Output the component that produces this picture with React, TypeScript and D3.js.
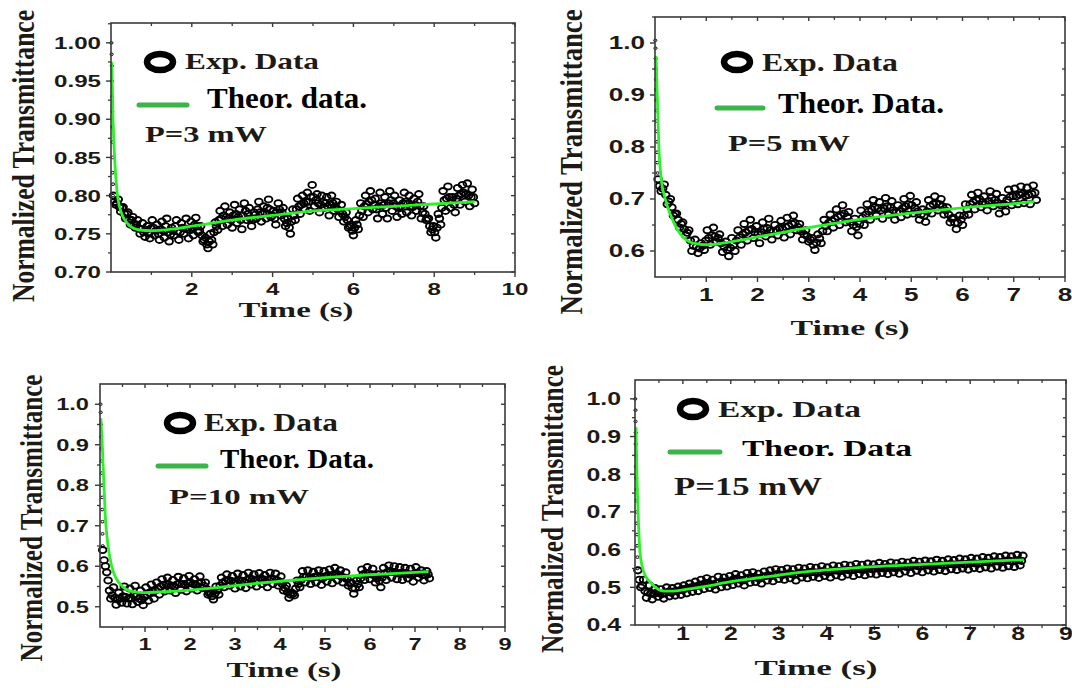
import React from 'react';
import * as d3 from 'd3';

// ================= DATA =================
// Panel 1 : P = 3 mW   (two interleaved sampling grids of the experimental trace)
const p1ExpStart = 0.06;
const p1ExpStartB = 0.09;
const p1ExpStep = 0.06;
const p1ExpValues = [
  0.800, 0.788, 0.795, 0.779, 0.785, 0.770, 0.778, 0.762, 0.772, 0.758,
  0.768, 0.750, 0.764, 0.746, 0.760, 0.744, 0.768, 0.748, 0.762, 0.742,
  0.766, 0.745, 0.770, 0.740, 0.758, 0.748, 0.768, 0.742, 0.764, 0.750,
  0.770, 0.744, 0.766, 0.748, 0.771, 0.752, 0.760, 0.740, 0.745, 0.731,
  0.750, 0.736, 0.765, 0.755, 0.780, 0.760, 0.786, 0.762, 0.778, 0.758,
  0.788, 0.764, 0.782, 0.756, 0.790, 0.768, 0.784, 0.760, 0.778, 0.770,
  0.792, 0.766, 0.786, 0.770, 0.795, 0.772, 0.780, 0.762, 0.790, 0.774,
  0.784, 0.760, 0.770, 0.750, 0.782, 0.768, 0.796, 0.776, 0.800, 0.782,
  0.804, 0.780, 0.814, 0.786, 0.802, 0.778, 0.800, 0.784, 0.798, 0.774,
  0.800, 0.780, 0.792, 0.772, 0.788, 0.766, 0.778, 0.758, 0.762, 0.748,
  0.768, 0.756, 0.790, 0.772, 0.800, 0.778, 0.806, 0.782, 0.796, 0.770,
  0.804, 0.776, 0.798, 0.770, 0.806, 0.780, 0.800, 0.772, 0.794, 0.776,
  0.804, 0.778, 0.800, 0.774, 0.796, 0.780, 0.802, 0.770, 0.786, 0.768,
  0.770, 0.752, 0.760, 0.745, 0.776, 0.762, 0.806, 0.780, 0.812, 0.784,
  0.798, 0.778, 0.810, 0.788, 0.814, 0.792, 0.816, 0.786, 0.808, 0.790,
];
const p1ExpValuesB = [
  0.792, 0.790, 0.785, 0.784, 0.776, 0.776, 0.769, 0.768, 0.763, 0.762,
  0.757, 0.756, 0.752, 0.755, 0.750, 0.757, 0.758, 0.754, 0.750, 0.756,
  0.754, 0.760, 0.752, 0.749, 0.754, 0.760, 0.753, 0.752, 0.758, 0.757,
  0.756, 0.755, 0.758, 0.762, 0.760, 0.754, 0.748, 0.742, 0.736, 0.740,
  0.742, 0.752, 0.760, 0.768, 0.770, 0.774, 0.772, 0.770, 0.768, 0.774,
  0.776, 0.772, 0.768, 0.774, 0.780, 0.776, 0.770, 0.768, 0.775, 0.782,
  0.778, 0.776, 0.778, 0.784, 0.782, 0.774, 0.770, 0.778, 0.782, 0.778,
  0.770, 0.764, 0.758, 0.766, 0.774, 0.782, 0.786, 0.788, 0.790, 0.792,
  0.792, 0.798, 0.798, 0.794, 0.790, 0.788, 0.792, 0.790, 0.786, 0.788,
  0.790, 0.786, 0.782, 0.780, 0.776, 0.772, 0.768, 0.760, 0.754, 0.758,
  0.762, 0.774, 0.780, 0.786, 0.789, 0.792, 0.794, 0.788, 0.782, 0.786,
  0.790, 0.788, 0.784, 0.790, 0.794, 0.790, 0.786, 0.784, 0.786, 0.790,
  0.792, 0.789, 0.786, 0.785, 0.788, 0.792, 0.786, 0.778, 0.776, 0.770,
  0.760, 0.756, 0.752, 0.758, 0.770, 0.784, 0.794, 0.796, 0.798, 0.794,
  0.788, 0.796, 0.800, 0.802, 0.804, 0.802, 0.800, 0.798, 0.798,
];
const p1ExpEarly: [number, number][] = [
  [0.01, 1.0], [0.015, 0.985], [0.02, 0.97], [0.02, 0.95], [0.025, 0.93], [0.03, 0.91],
  [0.03, 0.89], [0.035, 0.87], [0.04, 0.85], [0.04, 0.83], [0.05, 0.815], [0.05, 0.80],
];
const p1TheoT = [0.02, 0.05, 0.1, 0.15, 0.2, 0.3, 0.4, 0.5, 0.7, 1.0, 1.5, 2.0, 2.5, 3.0, 4.0, 5.0, 6.0, 7.0, 8.0, 9.0];
const p1TheoV = [0.975, 0.90, 0.84, 0.805, 0.788, 0.772, 0.764, 0.759, 0.755, 0.754, 0.756, 0.760, 0.764, 0.768, 0.774, 0.780, 0.783, 0.786, 0.789, 0.792];
const p1XLabels = [2, 4, 6, 8, 10];
const p1XMinor = [1, 3, 5, 7, 9];
const p1YLabels = [0.70, 0.75, 0.80, 0.85, 0.90, 0.95, 1.00];
const p1YMinor = [0.725, 0.775, 0.825, 0.875, 0.925, 0.975, 1.025];

// Panel 2 : P = 5 mW
const p2ExpStart = 0.06;
const p2ExpStartB = 0.09;
const p2ExpStep = 0.06;
const p2ExpValues = [
  0.738, 0.715, 0.728, 0.690, 0.700, 0.668, 0.672, 0.645, 0.655, 0.630,
  0.640, 0.600, 0.622, 0.596, 0.615, 0.602, 0.640, 0.612, 0.645, 0.618,
  0.632, 0.598, 0.618, 0.590, 0.625, 0.600, 0.640, 0.612, 0.652, 0.620,
  0.660, 0.625, 0.648, 0.615, 0.655, 0.628, 0.662, 0.622, 0.650, 0.630,
  0.658, 0.626, 0.664, 0.632, 0.668, 0.640, 0.652, 0.622, 0.640, 0.618,
  0.625, 0.602, 0.632, 0.615, 0.660, 0.638, 0.670, 0.645, 0.680, 0.650,
  0.688, 0.655, 0.675, 0.638, 0.662, 0.630, 0.678, 0.650, 0.690, 0.660,
  0.698, 0.668, 0.694, 0.662, 0.702, 0.670, 0.696, 0.660, 0.688, 0.665,
  0.700, 0.670, 0.706, 0.672, 0.694, 0.660, 0.680, 0.656, 0.698, 0.672,
  0.705, 0.678, 0.700, 0.670, 0.684, 0.655, 0.664, 0.642, 0.668, 0.650,
  0.690, 0.670, 0.708, 0.680, 0.712, 0.684, 0.705, 0.678, 0.715, 0.686,
  0.710, 0.672, 0.702, 0.676, 0.718, 0.688, 0.720, 0.690, 0.724, 0.692,
  0.722, 0.690, 0.726, 0.698,
];
const p2ExpValuesB = [
  0.725, 0.720, 0.708, 0.695, 0.684, 0.672, 0.660, 0.652, 0.642, 0.635,
  0.620, 0.610, 0.608, 0.605, 0.610, 0.620, 0.625, 0.630, 0.628, 0.625,
  0.615, 0.608, 0.602, 0.606, 0.612, 0.620, 0.626, 0.632, 0.636, 0.640,
  0.642, 0.636, 0.632, 0.636, 0.642, 0.644, 0.640, 0.638, 0.640, 0.644,
  0.642, 0.646, 0.648, 0.652, 0.654, 0.646, 0.638, 0.632, 0.628, 0.622,
  0.612, 0.616, 0.624, 0.638, 0.648, 0.654, 0.658, 0.662, 0.666, 0.668,
  0.672, 0.666, 0.656, 0.650, 0.646, 0.652, 0.664, 0.670, 0.676, 0.680,
  0.684, 0.682, 0.678, 0.682, 0.686, 0.684, 0.678, 0.674, 0.676, 0.682,
  0.686, 0.690, 0.688, 0.682, 0.676, 0.670, 0.668, 0.676, 0.686, 0.690,
  0.692, 0.690, 0.686, 0.678, 0.670, 0.662, 0.654, 0.654, 0.660, 0.668,
  0.680, 0.690, 0.694, 0.698, 0.700, 0.694, 0.690, 0.696, 0.702, 0.698,
  0.692, 0.688, 0.690, 0.698, 0.704, 0.706, 0.705, 0.708, 0.710, 0.706,
  0.708, 0.710, 0.712,
];
const p2ExpEarly: [number, number][] = [
  [0.005, 1.005], [0.01, 0.99], [0.012, 0.97], [0.015, 0.95], [0.02, 0.93], [0.02, 0.91],
  [0.025, 0.89], [0.03, 0.87], [0.03, 0.85], [0.035, 0.83], [0.04, 0.81], [0.04, 0.79],
  [0.045, 0.77], [0.05, 0.75],
];
const p2TheoT = [0.02, 0.05, 0.08, 0.12, 0.2, 0.3, 0.4, 0.5, 0.6, 0.75, 1.0, 1.5, 2.0, 2.5, 3.0, 3.5, 4.0, 5.0, 6.0, 7.0, 7.4];
const p2TheoV = [0.975, 0.88, 0.79, 0.74, 0.70, 0.67, 0.648, 0.632, 0.622, 0.615, 0.612, 0.618, 0.627, 0.636, 0.645, 0.653, 0.661, 0.673, 0.683, 0.691, 0.695];
const p2XLabels = [1, 2, 3, 4, 5, 6, 7, 8];
const p2XMinor = [0.5, 1.5, 2.5, 3.5, 4.5, 5.5, 6.5, 7.5];
const p2YLabels = [0.6, 0.7, 0.8, 0.9, 1.0];
const p2YMinor = [0.65, 0.75, 0.85, 0.95, 1.05];

// Panel 3 : P = 10 mW
const p3ExpStart = 0.06;
const p3ExpStartB = 0.09;
const p3ExpStep = 0.06;
const p3ExpValues = [
  0.640, 0.600, 0.565, 0.520, 0.548, 0.505, 0.535, 0.510, 0.550, 0.508,
  0.545, 0.506, 0.552, 0.512, 0.540, 0.504, 0.548, 0.515, 0.555, 0.520,
  0.560, 0.530, 0.568, 0.538, 0.572, 0.540, 0.566, 0.534, 0.574, 0.542,
  0.570, 0.538, 0.576, 0.545, 0.568, 0.540, 0.575, 0.546, 0.560, 0.530,
  0.535, 0.518, 0.550, 0.530, 0.572, 0.548, 0.580, 0.552, 0.576, 0.545,
  0.582, 0.550, 0.578, 0.546, 0.584, 0.555, 0.580, 0.550, 0.583, 0.556,
  0.578, 0.548, 0.584, 0.556, 0.582, 0.552, 0.575, 0.540, 0.552, 0.522,
  0.535, 0.528, 0.565, 0.548, 0.588, 0.560, 0.590, 0.556, 0.586, 0.560,
  0.590, 0.554, 0.588, 0.562, 0.592, 0.558, 0.596, 0.565, 0.590, 0.560,
  0.585, 0.552, 0.560, 0.532, 0.565, 0.548, 0.592, 0.566, 0.598, 0.568,
  0.594, 0.560, 0.580, 0.548, 0.596, 0.566, 0.602, 0.572, 0.600, 0.568,
  0.598, 0.566, 0.596, 0.570, 0.594, 0.562, 0.598, 0.572, 0.590, 0.565,
  0.588, 0.570,
];
const p3ExpValuesB = [
  0.615, 0.585, 0.540, 0.528, 0.522, 0.518, 0.520, 0.526, 0.524, 0.520,
  0.522, 0.528, 0.526, 0.520, 0.516, 0.524, 0.530, 0.534, 0.538, 0.540,
  0.545, 0.550, 0.554, 0.556, 0.555, 0.552, 0.550, 0.555, 0.558, 0.556,
  0.554, 0.558, 0.560, 0.556, 0.554, 0.558, 0.560, 0.552, 0.544, 0.534,
  0.526, 0.532, 0.540, 0.552, 0.560, 0.564, 0.566, 0.564, 0.560, 0.562,
  0.566, 0.564, 0.562, 0.566, 0.570, 0.568, 0.565, 0.566, 0.570, 0.568,
  0.562, 0.566, 0.570, 0.568, 0.566, 0.562, 0.556, 0.546, 0.536, 0.530,
  0.532, 0.545, 0.556, 0.566, 0.574, 0.574, 0.572, 0.570, 0.574, 0.576,
  0.572, 0.570, 0.575, 0.578, 0.576, 0.578, 0.582, 0.578, 0.574, 0.572,
  0.568, 0.558, 0.546, 0.545, 0.556, 0.570, 0.580, 0.584, 0.582, 0.580,
  0.578, 0.570, 0.564, 0.572, 0.582, 0.586, 0.588, 0.586, 0.584, 0.582,
  0.582, 0.584, 0.582, 0.580, 0.578, 0.582, 0.584, 0.582, 0.578, 0.578,
  0.580,
];
const p3ExpEarly: [number, number][] = [
  [0.01, 1.0], [0.015, 0.98], [0.02, 0.95], [0.025, 0.92], [0.03, 0.89], [0.035, 0.86],
  [0.04, 0.83], [0.045, 0.80], [0.05, 0.77], [0.05, 0.74], [0.055, 0.71], [0.055, 0.68],
  [0.06, 0.65],
];
const p3TheoT = [0.02, 0.05, 0.08, 0.12, 0.18, 0.26, 0.35, 0.5, 0.7, 1.0, 1.5, 2.0, 2.5, 3.0, 3.5, 4.0, 5.0, 6.0, 7.0, 7.3];
const p3TheoV = [0.965, 0.90, 0.82, 0.72, 0.65, 0.60, 0.572, 0.55, 0.538, 0.535, 0.537, 0.541, 0.546, 0.552, 0.558, 0.563, 0.572, 0.579, 0.585, 0.587];
const p3XLabels = [1, 2, 3, 4, 5, 6, 7, 8, 9];
const p3XMinor = [0.5, 1.5, 2.5, 3.5, 4.5, 5.5, 6.5, 7.5, 8.5];
const p3YLabels = [0.5, 0.6, 0.7, 0.8, 0.9, 1.0];
const p3YMinor = [0.55, 0.65, 0.75, 0.85, 0.95];

// Panel 4 : P = 15 mW
const p4ExpStart = 0.06;
const p4ExpStartB = 0.09;
const p4ExpStep = 0.06;
const p4ExpValues = [
  0.545, 0.500, 0.520, 0.472, 0.505, 0.468, 0.498, 0.475, 0.495, 0.470,
  0.500, 0.476, 0.498, 0.478, 0.502, 0.480, 0.505, 0.484, 0.510, 0.488,
  0.515, 0.490, 0.520, 0.495, 0.524, 0.498, 0.520, 0.494, 0.528, 0.500,
  0.526, 0.502, 0.530, 0.506, 0.535, 0.510, 0.532, 0.505, 0.538, 0.512,
  0.540, 0.514, 0.536, 0.510, 0.542, 0.518, 0.545, 0.516, 0.548, 0.522,
  0.546, 0.520, 0.550, 0.524, 0.548, 0.518, 0.552, 0.526, 0.550, 0.524,
  0.554, 0.528, 0.552, 0.525, 0.556, 0.530, 0.553, 0.526, 0.558, 0.532,
  0.556, 0.528, 0.560, 0.534, 0.558, 0.530, 0.562, 0.535, 0.560, 0.532,
  0.563, 0.536, 0.561, 0.534, 0.565, 0.538, 0.562, 0.535, 0.566, 0.540,
  0.564, 0.536, 0.568, 0.542, 0.566, 0.538, 0.570, 0.544, 0.568, 0.540,
  0.571, 0.545, 0.569, 0.542, 0.573, 0.546, 0.570, 0.543, 0.574, 0.548,
  0.572, 0.546, 0.576, 0.550, 0.574, 0.547, 0.578, 0.551, 0.576, 0.549,
  0.580, 0.553, 0.578, 0.550, 0.582, 0.555, 0.580, 0.552, 0.584, 0.556,
  0.582, 0.554, 0.586, 0.558, 0.584,
];
const p4ExpValuesB = [
  0.520, 0.505, 0.490, 0.486, 0.484, 0.482, 0.486, 0.484, 0.482, 0.485,
  0.488, 0.486, 0.489, 0.490, 0.492, 0.494, 0.496, 0.498, 0.500, 0.502,
  0.503, 0.506, 0.508, 0.510, 0.512, 0.508, 0.506, 0.512, 0.514, 0.515,
  0.514, 0.516, 0.518, 0.522, 0.523, 0.520, 0.518, 0.522, 0.525, 0.527,
  0.527, 0.525, 0.523, 0.528, 0.530, 0.532, 0.530, 0.533, 0.535, 0.534,
  0.533, 0.536, 0.537, 0.535, 0.533, 0.536, 0.539, 0.538, 0.537, 0.540,
  0.541, 0.540, 0.538, 0.542, 0.543, 0.541, 0.540, 0.544, 0.545, 0.544,
  0.543, 0.546, 0.547, 0.545, 0.546, 0.548, 0.549, 0.547, 0.546, 0.549,
  0.550, 0.548, 0.550, 0.552, 0.551, 0.550, 0.553, 0.554, 0.552, 0.551,
  0.553, 0.555, 0.556, 0.554, 0.555, 0.557, 0.558, 0.556, 0.555, 0.557,
  0.558, 0.557, 0.556, 0.559, 0.560, 0.559, 0.557, 0.560, 0.562, 0.561,
  0.560, 0.562, 0.563, 0.561, 0.562, 0.564, 0.565, 0.563, 0.562, 0.565,
  0.567, 0.566, 0.565, 0.567, 0.569, 0.568, 0.566, 0.569, 0.571, 0.570,
  0.568, 0.571, 0.572, 0.570,
];
const p4ExpEarly: [number, number][] = [
  [0.005, 1.0], [0.01, 0.97], [0.01, 0.94], [0.015, 0.91], [0.015, 0.88], [0.02, 0.85],
  [0.02, 0.82], [0.025, 0.79], [0.03, 0.76], [0.035, 0.73], [0.035, 0.70], [0.04, 0.67],
  [0.04, 0.64], [0.045, 0.61], [0.05, 0.58], [0.05, 0.55],
];
const p4TheoT = [0.02, 0.04, 0.07, 0.1, 0.15, 0.22, 0.33, 0.45, 0.6, 0.8, 1.0, 1.5, 2.0, 2.5, 3.0, 3.5, 4.0, 5.0, 6.0, 7.0, 8.12];
const p4TheoV = [0.925, 0.80, 0.68, 0.60, 0.555, 0.53, 0.512, 0.498, 0.49, 0.49, 0.493, 0.503, 0.515, 0.524, 0.532, 0.54, 0.546, 0.555, 0.561, 0.567, 0.573];
const p4XLabels = [1, 2, 3, 4, 5, 6, 7, 8, 9];
const p4XMinor = [0.5, 1.5, 2.5, 3.5, 4.5, 5.5, 6.5, 7.5, 8.5];
const p4YLabels = [0.4, 0.5, 0.6, 0.7, 0.8, 0.9, 1.0];
const p4YMinor = [0.45, 0.55, 0.65, 0.75, 0.85, 0.95];

const xTitle = 'Time (s)';
const yTitle = 'Normalized Transmittance';
const expLegend = 'Exp. Data';

// ================= LAYOUT =================
type Layout = {
  left: number; right: number; top: number; bottom: number;
  xDomain: [number, number]; yDomain: [number, number];
  yFmt: string; tickFont: number; tickScale: number; xLabelOff: number; yLabelGap: number;
  yTitle: { x: number; cy: number; len: number; font: number; sx: number };
  xTitle: { cx: number; base: number; len: number; font: number };
  ring: { cx: number; cy: number };
  exp: { x: number; base: number; len: number; font: number };
  line: { x1: number; x2: number; y: number };
  theor: { x: number; base: number; len: number; font: number; text: string };
  power: { x: number; base: number; len: number; font: number; text: string };
};

const L1: Layout = {
  left: 111, right: 515, top: 23, bottom: 272, xDomain: [0, 10], yDomain: [0.70, 1.026],
  yFmt: '.2f', tickFont: 17, tickScale: 1.42, xLabelOff: 23, yLabelGap: 10,
  yTitle: { x: 34, cy: 156, len: 292, font: 24, sx: 1.3 },
  xTitle: { cx: 296, base: 317, len: 115, font: 22 },
  ring: { cx: 160, cy: 62 },
  exp: { x: 185, base: 69, len: 134, font: 23 },
  line: { x1: 139, x2: 187, y: 105 },
  theor: { x: 207, base: 108, len: 160, font: 29, text: 'Theor. data.' },
  power: { x: 145, base: 142, len: 122, font: 24, text: 'P=3 mW' },
};
const L2: Layout = {
  left: 655, right: 1065, top: 17, bottom: 277, xDomain: [0, 8], yDomain: [0.55, 1.05],
  yFmt: '.1f', tickFont: 18, tickScale: 1.45, xLabelOff: 24, yLabelGap: 10,
  yTitle: { x: 582, cy: 162, len: 305, font: 24, sx: 1.3 },
  xTitle: { cx: 850, base: 335, len: 119, font: 22 },
  ring: { cx: 737, cy: 62 },
  exp: { x: 762, base: 71, len: 136, font: 25 },
  line: { x1: 717, x2: 763, y: 108 },
  theor: { x: 778, base: 113, len: 166, font: 30, text: 'Theor. Data.' },
  power: { x: 728, base: 151, len: 122, font: 24, text: 'P=5 mW' },
};
const L3: Layout = {
  left: 100, right: 505, top: 384, bottom: 627, xDomain: [0, 9], yDomain: [0.45, 1.05],
  yFmt: '.1f', tickFont: 17, tickScale: 1.39, xLabelOff: 23, yLabelGap: 11,
  yTitle: { x: 42, cy: 518, len: 287, font: 24, sx: 1.3 },
  xTitle: { cx: 284, base: 677, len: 115, font: 22 },
  ring: { cx: 180, cy: 423 },
  exp: { x: 204, base: 431, len: 134, font: 25 },
  line: { x1: 158, x2: 206, y: 466 },
  theor: { x: 220, base: 468, len: 154, font: 27, text: 'Theor. Data.' },
  power: { x: 169, base: 504, len: 140, font: 22, text: 'P=10 mW' },
};
const L4: Layout = {
  left: 635, right: 1066, top: 380, bottom: 625, xDomain: [0, 9], yDomain: [0.4, 1.05],
  yFmt: '.1f', tickFont: 17.5, tickScale: 1.42, xLabelOff: 15, yLabelGap: 14,
  yTitle: { x: 563, cy: 509, len: 288, font: 24, sx: 1.3 },
  xTitle: { cx: 816, base: 675, len: 123, font: 22 },
  ring: { cx: 693, cy: 409 },
  exp: { x: 718, base: 417, len: 143, font: 23 },
  line: { x1: 670, x2: 720, y: 452 },
  theor: { x: 742, base: 456, len: 170, font: 24, text: 'Theor. Data' },
  power: { x: 674, base: 495, len: 148, font: 25, text: 'P=15 mW' },
};

const SERIF = '"Liberation Serif", "Times New Roman", serif';
const SANS = '"Liberation Sans", Arial, sans-serif';
const TEXT_COLOR = '#1d1a16';
const AXIS_COLOR = '#3a3a3a';
const FIT_COLOR = '#2cf02a';
const LEGEND_LINE = '#3cb44a';

type PanelProps = {
  L: Layout;
  start: number; startB: number; step: number; values: number[]; valuesB: number[]; early: [number, number][];
  theoT: number[]; theoV: number[];
  xLabels: number[]; xMinor: number[]; yLabels: number[]; yMinor: number[];
};

function Panel({ L, start, startB, step, values, valuesB, early, theoT, theoV, xLabels, xMinor, yLabels, yMinor }: PanelProps) {
  const x = d3.scaleLinear().domain(L.xDomain).range([L.left, L.right]);
  const y = d3.scaleLinear().domain(L.yDomain).range([L.bottom, L.top]);
  const pts: [number, number][] = values.map((v, i) => [start + i * step, v] as [number, number])
    .concat(valuesB.map((v, i) => [startB + i * step, v] as [number, number]));
  const theo: [number, number][] = theoT.map((t, i) => [t, theoV[i]]);
  const line = d3.line<[number, number]>().x(d => x(d[0])).y(d => y(d[1])).curve(d3.curveMonotoneX);
  const fmt = d3.format(L.yFmt);
  const maj = 5, mnr = 3;
  return (
    <g>
      {/* data */}
      {early.map((p, i) => (
        <ellipse key={'e' + i} cx={x(p[0])} cy={y(p[1])} rx={1.6} ry={1.3} fill="none" stroke="#000" strokeWidth={1} />
      ))}
      {pts.map((p, i) => (
        <ellipse key={i} cx={x(p[0])} cy={y(p[1])} rx={3.8} ry={3.1} fill="none" stroke="#000" strokeWidth={1.9} />
      ))}
      <path d={line(theo) || ''} fill="none" stroke={FIT_COLOR} strokeWidth={2.8} />
      {/* frame */}
      <rect x={L.left} y={L.top} width={L.right - L.left} height={L.bottom - L.top} fill="none" stroke={AXIS_COLOR} strokeWidth={1.6} />
      {/* x ticks */}
      {xLabels.map(t => (
        <g key={'xm' + t}>
          <line x1={x(t)} x2={x(t)} y1={L.bottom} y2={L.bottom + maj} stroke={AXIS_COLOR} strokeWidth={1.4} />
          <line x1={x(t)} x2={x(t)} y1={L.top} y2={L.top + maj - 1} stroke={AXIS_COLOR} strokeWidth={1.4} />
          <text transform={`translate(${x(t)},${L.bottom + L.xLabelOff}) scale(${L.tickScale},1)`} textAnchor="middle"
            fontFamily={SANS} fontWeight="bold" fontSize={L.tickFont} fill={TEXT_COLOR}>{t}</text>
        </g>
      ))}
      {xMinor.map(t => (
        <g key={'xn' + t}>
          <line x1={x(t)} x2={x(t)} y1={L.bottom} y2={L.bottom + mnr} stroke={AXIS_COLOR} strokeWidth={1.3} />
          <line x1={x(t)} x2={x(t)} y1={L.top} y2={L.top + mnr} stroke={AXIS_COLOR} strokeWidth={1.3} />
        </g>
      ))}
      {/* y ticks */}
      {yLabels.map(v => (
        <g key={'ym' + v}>
          <line x1={L.left - maj} x2={L.left} y1={y(v)} y2={y(v)} stroke={AXIS_COLOR} strokeWidth={1.4} />
          <line x1={L.right - maj + 1} x2={L.right} y1={y(v)} y2={y(v)} stroke={AXIS_COLOR} strokeWidth={1.4} />
          <text transform={`translate(${L.left - L.yLabelGap},${y(v)}) scale(${L.tickScale},1)`} textAnchor="end" dy="0.36em"
            fontFamily={SANS} fontWeight="bold" fontSize={L.tickFont} fill={TEXT_COLOR}>{fmt(v)}</text>
        </g>
      ))}
      {yMinor.filter(v => y(v) >= L.top - 0.5 && y(v) <= L.bottom + 0.5).map(v => (
        <g key={'yn' + v}>
          <line x1={L.left - mnr} x2={L.left} y1={y(v)} y2={y(v)} stroke={AXIS_COLOR} strokeWidth={1.3} />
          <line x1={L.right - mnr} x2={L.right} y1={y(v)} y2={y(v)} stroke={AXIS_COLOR} strokeWidth={1.3} />
        </g>
      ))}
      {/* axis titles */}
      <text transform={`translate(${L.yTitle.x},${L.yTitle.cy}) scale(${L.yTitle.sx},1) rotate(-90)`} textAnchor="middle"
        fontFamily={SERIF} fontWeight="bold" fontSize={L.yTitle.font} fill={TEXT_COLOR}
        textLength={L.yTitle.len} lengthAdjust="spacingAndGlyphs">{yTitle}</text>
      <text x={L.xTitle.cx - L.xTitle.len / 2} y={L.xTitle.base}
        fontFamily={SERIF} fontWeight="bold" fontSize={L.xTitle.font} fill={TEXT_COLOR}
        textLength={L.xTitle.len} lengthAdjust="spacingAndGlyphs">{xTitle}</text>
      {/* legend */}
      <ellipse cx={L.ring.cx} cy={L.ring.cy} rx={13} ry={8} fill="none" stroke="#000" strokeWidth={6.5} />
      <text x={L.exp.x} y={L.exp.base} fontFamily={SERIF} fontWeight="bold" fontSize={L.exp.font} fill={TEXT_COLOR}
        textLength={L.exp.len} lengthAdjust="spacingAndGlyphs">{expLegend}</text>
      <line x1={L.line.x1} x2={L.line.x2} y1={L.line.y} y2={L.line.y} stroke={LEGEND_LINE} strokeWidth={5} strokeLinecap="round" />
      <text x={L.theor.x} y={L.theor.base} fontFamily={SERIF} fontWeight="bold" fontSize={L.theor.font} fill="#000"
        textLength={L.theor.len} lengthAdjust="spacingAndGlyphs">{L.theor.text}</text>
      <text x={L.power.x} y={L.power.base} fontFamily={SERIF} fontWeight="bold" fontSize={L.power.font} fill={TEXT_COLOR}
        textLength={L.power.len} lengthAdjust="spacingAndGlyphs">{L.power.text}</text>
    </g>
  );
}

export default function App() {
  return (
    <svg width={1072} height={688} viewBox="0 0 1072 688"
      style={{ position: 'absolute', left: 0, top: 0, background: '#fff', display: 'block' }}>
      <rect x={0} y={0} width={1072} height={688} fill="#fff" />
      <Panel L={L1} start={p1ExpStart} startB={p1ExpStartB} step={p1ExpStep} values={p1ExpValues} valuesB={p1ExpValuesB}
        early={p1ExpEarly} theoT={p1TheoT} theoV={p1TheoV} xLabels={p1XLabels} xMinor={p1XMinor} yLabels={p1YLabels} yMinor={p1YMinor} />
      <Panel L={L2} start={p2ExpStart} startB={p2ExpStartB} step={p2ExpStep} values={p2ExpValues} valuesB={p2ExpValuesB}
        early={p2ExpEarly} theoT={p2TheoT} theoV={p2TheoV} xLabels={p2XLabels} xMinor={p2XMinor} yLabels={p2YLabels} yMinor={p2YMinor} />
      <Panel L={L3} start={p3ExpStart} startB={p3ExpStartB} step={p3ExpStep} values={p3ExpValues} valuesB={p3ExpValuesB}
        early={p3ExpEarly} theoT={p3TheoT} theoV={p3TheoV} xLabels={p3XLabels} xMinor={p3XMinor} yLabels={p3YLabels} yMinor={p3YMinor} />
      <Panel L={L4} start={p4ExpStart} startB={p4ExpStartB} step={p4ExpStep} values={p4ExpValues} valuesB={p4ExpValuesB}
        early={p4ExpEarly} theoT={p4TheoT} theoV={p4TheoV} xLabels={p4XLabels} xMinor={p4XMinor} yLabels={p4YLabels} yMinor={p4YMinor} />
    </svg>
  );
}
